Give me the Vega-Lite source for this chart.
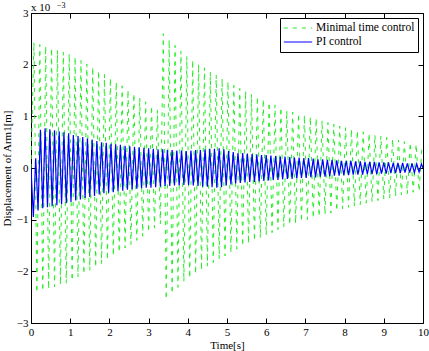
{
  "$schema": "https://vega.github.io/schema/vega-lite/v6.json",
  "width": 392,
  "height": 310,
  "autosize": {"type": "none"},
  "padding": {"left": 31, "top": 13, "right": 6, "bottom": 28},
  "background": "white",
  "config": {
    "font": "Liberation Serif, Times New Roman, serif",
    "view": {"stroke": "black", "strokeWidth": 1},
    "axis": {
      "grid": false,
      "domain": false,
      "tickColor": "black",
      "tickSize": -5,
      "labelColor": "black",
      "labelFont": "Liberation Serif, Times New Roman, serif",
      "labelFontSize": 11,
      "titleFont": "Liberation Serif, Times New Roman, serif",
      "titleFontSize": 11,
      "titleFontWeight": "normal",
      "titleColor": "black"
    },
    "legend": {
      "orient": "top-right",
      "offset": 5,
      "strokeColor": "black",
      "fillColor": "white",
      "padding": 3,
      "symbolType": "stroke",
      "symbolSize": 800,
      "symbolStrokeWidth": 1.2,
      "clipHeight": 14,
      "labelFont": "Liberation Serif, Times New Roman, serif",
      "labelFontSize": 11.5,
      "labelColor": "black",
      "labelOffset": 3,
      "rowPadding": 0
    }
  },
  "datasets": {
    "minimal": [
      {"t": 0, "v": 0}, {"t": 0.075, "v": 2.43}, {"t": 0.15, "v": -2.41}, {"t": 0.225, "v": 2.39}, {"t": 0.3, "v": -2.38},
      {"t": 0.375, "v": 2.36}, {"t": 0.45, "v": -2.34}, {"t": 0.525, "v": 2.32}, {"t": 0.6, "v": -2.30}, {"t": 0.675, "v": 2.28},
      {"t": 0.75, "v": -2.26}, {"t": 0.825, "v": 2.24}, {"t": 0.9, "v": -2.23}, {"t": 0.975, "v": 2.21}, {"t": 1.05, "v": -2.18},
      {"t": 1.125, "v": 2.15}, {"t": 1.2, "v": -2.11}, {"t": 1.275, "v": 2.08}, {"t": 1.35, "v": -2.05}, {"t": 1.425, "v": 2.01},
      {"t": 1.5, "v": -1.98}, {"t": 1.575, "v": 1.95}, {"t": 1.65, "v": -1.92}, {"t": 1.725, "v": 1.88}, {"t": 1.8, "v": -1.85},
      {"t": 1.875, "v": 1.81}, {"t": 1.95, "v": -1.78}, {"t": 2.025, "v": 1.74}, {"t": 2.1, "v": -1.70}, {"t": 2.175, "v": 1.66},
      {"t": 2.25, "v": -1.63}, {"t": 2.325, "v": 1.59}, {"t": 2.4, "v": -1.55}, {"t": 2.475, "v": 1.51}, {"t": 2.55, "v": -1.48},
      {"t": 2.625, "v": 1.44}, {"t": 2.7, "v": -1.40}, {"t": 2.775, "v": 1.36}, {"t": 2.85, "v": -1.32}, {"t": 2.925, "v": 1.28},
      {"t": 3.0, "v": -1.24}, {"t": 3.075, "v": 1.20}, {"t": 3.15, "v": -1.16}, {"t": 3.225, "v": 1.12}, {"t": 3.3, "v": -1.08},
      {"t": 3.375, "v": 2.60}, {"t": 3.45, "v": -2.54}, {"t": 3.525, "v": 2.48}, {"t": 3.6, "v": -2.43}, {"t": 3.675, "v": 2.37},
      {"t": 3.75, "v": -2.31}, {"t": 3.825, "v": 2.26}, {"t": 3.9, "v": -2.20}, {"t": 3.975, "v": 2.16}, {"t": 4.05, "v": -2.13},
      {"t": 4.125, "v": 2.09}, {"t": 4.2, "v": -2.05}, {"t": 4.275, "v": 2.01}, {"t": 4.35, "v": -1.98}, {"t": 4.425, "v": 1.94},
      {"t": 4.5, "v": -1.90}, {"t": 4.575, "v": 1.86}, {"t": 4.65, "v": -1.83}, {"t": 4.725, "v": 1.80}, {"t": 4.8, "v": -1.76},
      {"t": 4.875, "v": 1.73}, {"t": 4.95, "v": -1.70}, {"t": 5.025, "v": 1.67}, {"t": 5.1, "v": -1.64}, {"t": 5.175, "v": 1.60},
      {"t": 5.25, "v": -1.57}, {"t": 5.325, "v": 1.54}, {"t": 5.4, "v": -1.51}, {"t": 5.475, "v": 1.49}, {"t": 5.55, "v": -1.46},
      {"t": 5.625, "v": 1.43}, {"t": 5.7, "v": -1.41}, {"t": 5.775, "v": 1.38}, {"t": 5.85, "v": -1.35}, {"t": 5.925, "v": 1.33},
      {"t": 6.0, "v": -1.30}, {"t": 6.075, "v": 1.27}, {"t": 6.15, "v": -1.25}, {"t": 6.225, "v": 1.22}, {"t": 6.3, "v": -1.19},
      {"t": 6.375, "v": 1.17}, {"t": 6.45, "v": -1.14}, {"t": 6.525, "v": 1.11}, {"t": 6.6, "v": -1.10}, {"t": 6.675, "v": 1.08},
      {"t": 6.75, "v": -1.07}, {"t": 6.825, "v": 1.05}, {"t": 6.9, "v": -1.04}, {"t": 6.975, "v": 1.02}, {"t": 7.05, "v": -1.00},
      {"t": 7.125, "v": 0.99}, {"t": 7.2, "v": -0.97}, {"t": 7.275, "v": 0.96}, {"t": 7.35, "v": -0.94}, {"t": 7.425, "v": 0.92},
      {"t": 7.5, "v": -0.90}, {"t": 7.575, "v": 0.88}, {"t": 7.65, "v": -0.87}, {"t": 7.725, "v": 0.85}, {"t": 7.8, "v": -0.83},
      {"t": 7.875, "v": 0.81}, {"t": 7.95, "v": -0.79}, {"t": 8.025, "v": 0.78}, {"t": 8.1, "v": -0.76}, {"t": 8.175, "v": 0.75},
      {"t": 8.25, "v": -0.74}, {"t": 8.325, "v": 0.72}, {"t": 8.4, "v": -0.71}, {"t": 8.475, "v": 0.70}, {"t": 8.55, "v": -0.68},
      {"t": 8.625, "v": 0.67}, {"t": 8.7, "v": -0.66}, {"t": 8.775, "v": 0.64}, {"t": 8.85, "v": -0.63}, {"t": 8.925, "v": 0.62},
      {"t": 9.0, "v": -0.60}, {"t": 9.075, "v": 0.59}, {"t": 9.15, "v": -0.58}, {"t": 9.225, "v": 0.56}, {"t": 9.3, "v": -0.55},
      {"t": 9.375, "v": 0.54}, {"t": 9.45, "v": -0.52}, {"t": 9.525, "v": 0.51}, {"t": 9.6, "v": -0.50}, {"t": 9.675, "v": 0.49},
      {"t": 9.75, "v": -0.47}, {"t": 9.825, "v": 0.46}, {"t": 9.9, "v": -0.45}, {"t": 9.975, "v": 0.43}
    ],
    "pi": [
      {"t": 0, "v": 0}, {"t": 0.06, "v": -0.95}, {"t": 0.12, "v": 0.19}, {"t": 0.18, "v": -0.82}, {"t": 0.24, "v": 0.74},
      {"t": 0.30, "v": -0.78}, {"t": 0.36, "v": 0.77}, {"t": 0.42, "v": -0.76}, {"t": 0.48, "v": 0.75}, {"t": 0.54, "v": -0.74},
      {"t": 0.60, "v": 0.73}, {"t": 0.66, "v": -0.72}, {"t": 0.72, "v": 0.71}, {"t": 0.78, "v": -0.70}, {"t": 0.84, "v": 0.69},
      {"t": 0.90, "v": -0.68}, {"t": 0.96, "v": 0.67}, {"t": 1.02, "v": -0.66}, {"t": 1.08, "v": 0.64}, {"t": 1.14, "v": -0.63},
      {"t": 1.20, "v": 0.62}, {"t": 1.26, "v": -0.61}, {"t": 1.32, "v": 0.60}, {"t": 1.38, "v": -0.58}, {"t": 1.44, "v": 0.57},
      {"t": 1.50, "v": -0.56}, {"t": 1.56, "v": 0.55}, {"t": 1.62, "v": -0.54}, {"t": 1.68, "v": 0.52}, {"t": 1.74, "v": -0.51},
      {"t": 1.80, "v": 0.50}, {"t": 1.86, "v": -0.49}, {"t": 1.92, "v": 0.49}, {"t": 1.98, "v": -0.48}, {"t": 2.04, "v": 0.47},
      {"t": 2.10, "v": -0.47}, {"t": 2.16, "v": 0.46}, {"t": 2.22, "v": -0.45}, {"t": 2.28, "v": 0.45}, {"t": 2.34, "v": -0.44},
      {"t": 2.40, "v": 0.43}, {"t": 2.46, "v": -0.42}, {"t": 2.52, "v": 0.42}, {"t": 2.58, "v": -0.41}, {"t": 2.64, "v": 0.41},
      {"t": 2.70, "v": -0.40}, {"t": 2.76, "v": 0.40}, {"t": 2.82, "v": -0.39}, {"t": 2.88, "v": 0.39}, {"t": 2.94, "v": -0.38},
      {"t": 3.00, "v": 0.38}, {"t": 3.06, "v": -0.38}, {"t": 3.12, "v": 0.37}, {"t": 3.18, "v": -0.37}, {"t": 3.24, "v": 0.36},
      {"t": 3.30, "v": -0.36}, {"t": 3.36, "v": 0.36}, {"t": 3.42, "v": -0.35}, {"t": 3.48, "v": 0.35}, {"t": 3.54, "v": -0.35},
      {"t": 3.60, "v": 0.35}, {"t": 3.66, "v": -0.34}, {"t": 3.72, "v": 0.34}, {"t": 3.78, "v": -0.34}, {"t": 3.84, "v": 0.34},
      {"t": 3.90, "v": -0.33}, {"t": 3.96, "v": 0.33}, {"t": 4.02, "v": -0.33}, {"t": 4.08, "v": 0.34}, {"t": 4.14, "v": -0.34},
      {"t": 4.20, "v": 0.35}, {"t": 4.26, "v": -0.35}, {"t": 4.32, "v": 0.35}, {"t": 4.38, "v": -0.36}, {"t": 4.44, "v": 0.36},
      {"t": 4.50, "v": -0.36}, {"t": 4.56, "v": 0.37}, {"t": 4.62, "v": -0.37}, {"t": 4.68, "v": 0.37}, {"t": 4.74, "v": -0.38},
      {"t": 4.80, "v": 0.38}, {"t": 4.86, "v": -0.37}, {"t": 4.92, "v": 0.36}, {"t": 4.98, "v": -0.34}, {"t": 5.04, "v": 0.33},
      {"t": 5.10, "v": -0.32}, {"t": 5.16, "v": 0.31}, {"t": 5.22, "v": -0.30}, {"t": 5.28, "v": 0.29}, {"t": 5.34, "v": -0.29},
      {"t": 5.40, "v": 0.29}, {"t": 5.46, "v": -0.28}, {"t": 5.52, "v": 0.28}, {"t": 5.58, "v": -0.27}, {"t": 5.64, "v": 0.27},
      {"t": 5.70, "v": -0.27}, {"t": 5.76, "v": 0.26}, {"t": 5.82, "v": -0.26}, {"t": 5.88, "v": 0.25}, {"t": 5.94, "v": -0.25},
      {"t": 6.00, "v": 0.25}, {"t": 6.06, "v": -0.24}, {"t": 6.12, "v": 0.24}, {"t": 6.18, "v": -0.23}, {"t": 6.24, "v": 0.23},
      {"t": 6.30, "v": -0.23}, {"t": 6.36, "v": 0.22}, {"t": 6.42, "v": -0.22}, {"t": 6.48, "v": 0.22}, {"t": 6.54, "v": -0.21},
      {"t": 6.60, "v": 0.21}, {"t": 6.66, "v": -0.21}, {"t": 6.72, "v": 0.20}, {"t": 6.78, "v": -0.20}, {"t": 6.84, "v": 0.20},
      {"t": 6.90, "v": -0.19}, {"t": 6.96, "v": 0.19}, {"t": 7.02, "v": -0.19}, {"t": 7.08, "v": 0.19}, {"t": 7.14, "v": -0.18},
      {"t": 7.20, "v": 0.18}, {"t": 7.26, "v": -0.18}, {"t": 7.32, "v": 0.17}, {"t": 7.38, "v": -0.17}, {"t": 7.44, "v": 0.17},
      {"t": 7.50, "v": -0.17}, {"t": 7.56, "v": 0.16}, {"t": 7.62, "v": -0.16}, {"t": 7.68, "v": 0.16}, {"t": 7.74, "v": -0.15},
      {"t": 7.80, "v": 0.15}, {"t": 7.86, "v": -0.15}, {"t": 7.92, "v": 0.14}, {"t": 7.98, "v": -0.14}, {"t": 8.04, "v": 0.14},
      {"t": 8.10, "v": -0.14}, {"t": 8.16, "v": 0.14}, {"t": 8.22, "v": -0.13}, {"t": 8.28, "v": 0.13}, {"t": 8.34, "v": -0.13},
      {"t": 8.40, "v": 0.13}, {"t": 8.46, "v": -0.13}, {"t": 8.52, "v": 0.12}, {"t": 8.58, "v": -0.12}, {"t": 8.64, "v": 0.12},
      {"t": 8.70, "v": -0.12}, {"t": 8.76, "v": 0.12}, {"t": 8.82, "v": -0.12}, {"t": 8.88, "v": 0.11}, {"t": 8.94, "v": -0.11},
      {"t": 9.00, "v": 0.11}, {"t": 9.06, "v": -0.11}, {"t": 9.12, "v": 0.11}, {"t": 9.18, "v": -0.10}, {"t": 9.24, "v": 0.10},
      {"t": 9.30, "v": -0.10}, {"t": 9.36, "v": 0.10}, {"t": 9.42, "v": -0.10}, {"t": 9.48, "v": 0.10}, {"t": 9.54, "v": -0.09},
      {"t": 9.60, "v": 0.09}, {"t": 9.66, "v": -0.09}, {"t": 9.72, "v": 0.09}, {"t": 9.78, "v": -0.09}, {"t": 9.84, "v": 0.08},
      {"t": 9.90, "v": -0.08}, {"t": 9.96, "v": 0.08}, {"t": 10.0, "v": 0.0}
    ]
  },
  "layer": [
    {
      "data": {"name": "minimal"},
      "mark": {"type": "line", "strokeWidth": 1, "clip": true},
      "encoding": {
        "x": {
          "field": "t", "type": "quantitative",
          "scale": {"domain": [0, 10], "nice": false, "zero": false},
          "axis": {"orient": "bottom", "values": [0, 1, 2, 3, 4, 5, 6, 7, 8, 9, 10], "title": "Time[s]", "labelFlush": false, "labelPadding": 8, "titlePadding": 2}
        },
        "y": {
          "field": "v", "type": "quantitative",
          "scale": {"domain": [-3, 3], "nice": false, "zero": false},
          "axis": {"orient": "left", "values": [-3, -2, -1, 0, 1, 2, 3], "title": "Displacement of Arm1[m]", "labelPadding": 8, "titlePadding": 4}
        },
        "color": {
          "datum": "Minimal time control", "type": "nominal",
          "scale": {"domain": ["Minimal time control", "PI control"], "range": ["#22ee22", "#0000ff"]},
          "legend": {"title": null}
        },
        "strokeDash": {
          "datum": "Minimal time control", "type": "nominal",
          "scale": {"domain": ["Minimal time control", "PI control"], "range": [[4, 5], [1, 0]]},
          "legend": {"title": null}
        }
      }
    },
    {
      "data": {"name": "pi"},
      "mark": {"type": "line", "strokeWidth": 1.2, "clip": true},
      "encoding": {
        "x": {
          "field": "t", "type": "quantitative",
          "axis": {"orient": "top", "values": [0, 1, 2, 3, 4, 5, 6, 7, 8, 9, 10], "labels": false, "title": null}
        },
        "y": {
          "field": "v", "type": "quantitative",
          "axis": {"orient": "right", "values": [-3, -2, -1, 0, 1, 2, 3], "labels": false, "title": null}
        },
        "color": {"datum": "PI control", "type": "nominal", "legend": {"title": null}},
        "strokeDash": {"datum": "PI control", "type": "nominal", "legend": {"title": null}}
      }
    },
    {
      "data": {"values": [{"label": "x 10"}]},
      "mark": {"type": "text", "align": "left", "baseline": "alphabetic", "dy": -2, "fontSize": 11, "font": "Liberation Serif, Times New Roman, serif", "color": "black"},
      "encoding": {
        "x": {"datum": 0, "type": "quantitative", "axis": null},
        "y": {"datum": 3, "type": "quantitative", "axis": null},
        "text": {"field": "label"}
      }
    },
    {
      "data": {"values": [{"label": "−3"}]},
      "mark": {"type": "text", "align": "left", "baseline": "alphabetic", "dx": 26, "dy": -5, "fontSize": 8, "font": "Liberation Serif, Times New Roman, serif", "color": "black"},
      "encoding": {
        "x": {"datum": 0, "type": "quantitative", "axis": null},
        "y": {"datum": 3, "type": "quantitative", "axis": null},
        "text": {"field": "label"}
      }
    }
  ],
  "resolve": {"axis": {"x": "independent", "y": "independent"}}
}
